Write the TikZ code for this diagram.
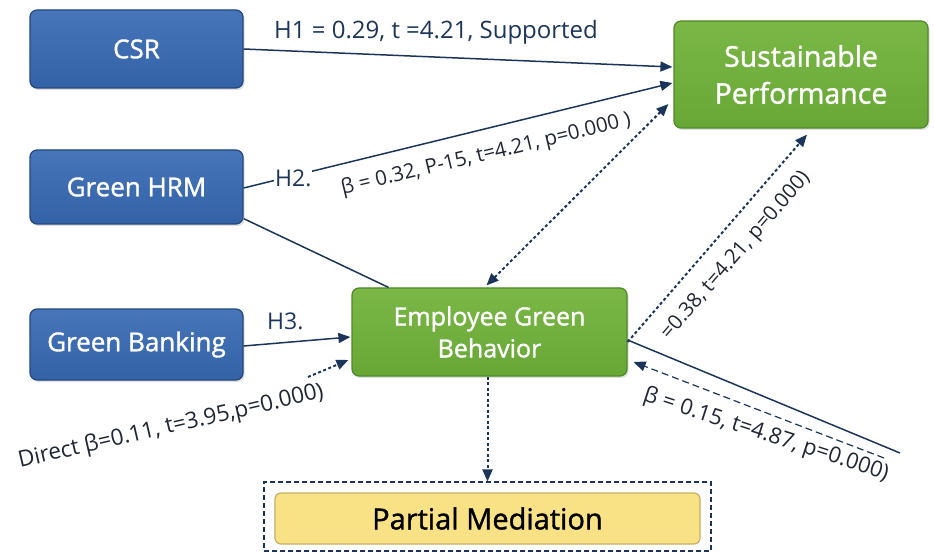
\documentclass[tikz,border=0pt]{standalone}
\usepackage{fontspec}
\setmainfont{Open Sans}
\newfontfamily\boxfont[FakeBold=1.3]{Open Sans}
\usetikzlibrary{arrows.meta,calc,shadows}
\definecolor{bluefill}{HTML}{3462A6}
\definecolor{bluetop}{HTML}{4675BA}
\definecolor{blueline}{HTML}{24477C}
\definecolor{greenfill}{HTML}{68A736}
\definecolor{greentop}{HTML}{7AB746}
\definecolor{greenline}{HTML}{4C8A28}
\definecolor{yellowfill}{HTML}{F9E286}
\definecolor{yellowline}{HTML}{C5AE62}
\definecolor{navy}{HTML}{1B355A}
\definecolor{labeltext}{HTML}{1E2633}
\tikzset{
  bluebox/.style={draw=blueline, line width=1.2pt, rounded corners=7pt,
    top color=bluetop, bottom color=bluefill, text=white,
    font=\boxfont\fontsize{26}{30}\selectfont, align=center,
    drop shadow={shadow xshift=1.5pt, shadow yshift=-2pt, opacity=0.25}},
  greenbox/.style={draw=greenline, line width=1.2pt, rounded corners=7pt,
    top color=greentop, bottom color=greenfill, text=white, align=center,
    drop shadow={shadow xshift=1.5pt, shadow yshift=-2pt, opacity=0.25}},
  yellowbox/.style={draw=yellowline, line width=1.2pt, rounded corners=6pt,
    fill=yellowfill, text=black, font=\boxfont\fontsize{29}{32}\selectfont},
  outerbox/.style={draw=navy, line width=1.1pt, dash pattern=on 5pt off 3pt},
  tip/.style={-{Triangle[length=12pt,width=10pt]}},
  solidline/.style={draw=navy, line width=1.5pt},
  solidarrow/.style={solidline, tip},
  dotline/.style={draw=navy, line width=2pt, dash pattern=on 3pt off 2.5pt},
  dotarrow/.style={dotline, tip},
  dashline/.style={draw=navy, line width=1.2pt, dash pattern=on 7pt off 4pt},
  lab/.style={text=labeltext, inner sep=0pt},
  hlab/.style={text=navy, inner sep=0pt}
}
\begin{document}
\begin{tikzpicture}[x=1pt,y=-1pt]
\useasboundingbox (0,0) rectangle (934,553);
% nodes
\node[bluebox, minimum width=213pt, minimum height=78pt] (CSR) at (136.5,49) {CSR};
\node[bluebox, minimum width=213pt, minimum height=74pt] (HRM) at (136.5,187) {Green HRM};
\node[bluebox, minimum width=213pt, minimum height=71pt] (GB) at (136.5,344.5) {Green Banking};
\node[greenbox, minimum width=275pt, minimum height=88pt,
  font=\boxfont\fontsize{25}{32}\selectfont] (EGB) at (489.5,332) {Employee Green\\Behavior};
\node[greenbox, minimum width=254pt, minimum height=107pt,
  font=\boxfont\fontsize{28.5}{37}\selectfont] (SP) at (801,74.5) {Sustainable\\Performance};
\node[outerbox, minimum width=447pt, minimum height=69pt] (PMbox) at (487.5,516.5) {};
\node[yellowbox, minimum width=425pt, minimum height=51pt] (PM) at (487.5,518.5) {Partial Mediation};
% free ends
\coordinate (e1) at (900,453);
\coordinate (e2) at (884,458);
\coordinate (d1) at (308,377);
% connectors
\draw[solidarrow] (CSR.east) -- ($(SP.west)+(-1,-7.5)$);
\draw[solidarrow] ($(HRM.east)+(0,1)$) -- ($(SP.west)+(-1,8.5)$);
\draw[dotline, {Triangle[length=12pt,width=10pt]}-{Triangle[length=12pt,width=10pt]}]
  ($(EGB.north)+(-3,-2)$) -- ($(SP.west)+(-5,29.5)$);
\draw[dotarrow] ($(EGB.east)+(0,10)$) -- ($(SP.south)+(6,6)$);
\draw[solidline] ($(EGB.east)+(0,8)$) -- (e1);
\draw[dashline, tip] (e2) -- ($(EGB.east)+(6,30)$);
\draw[solidline] ($(HRM.south east)+(0,-6)$) -- ($(EGB.north)+(-101,0)$);
\draw[solidarrow] ($(GB.east)+(0,1.5)$) -- ($(EGB.west)+(-1,5)$);
\draw[dotarrow] (d1) -- ($(EGB.west)+(-3,28)$);
\draw[dotarrow] ($(EGB.south)+(-2,0)$) -- (PMbox.north);
% labels
\node[hlab, anchor=west, font=\fontsize{24}{27}\selectfont] (l1) at (274,32) {H1 = 0.29, t =4.21, Supported};
\node[hlab, anchor=west, fill=white, inner sep=1pt, font=\fontsize{23}{26}\selectfont] (l2) at (274,178) {H2.};
\node[lab, rotate=13.5, font=\fontsize{20.5}{24}\selectfont] (l3) at (486,155) {β = 0.32, P-15, t=4.21, p=0.000 )};
\node[hlab, anchor=west, font=\fontsize{23}{26}\selectfont] (l4) at (267,321) {H3.};
\node[lab, rotate=13, font=\fontsize{22.5}{26}\selectfont] (l5) at (171,427) {Direct β=0.11, t=3.95,p=0.000)};
\node[lab, rotate=49, font=\fontsize{20.5}{24}\selectfont] (l6) at (736,256) {=0.38, t=4.21, p=0.000)};
\node[lab, rotate=-18, font=\fontsize{22}{26}\selectfont] (l7) at (766,435) {β = 0.15, t=4.87, p=0.000)};
\end{tikzpicture}
\end{document}
